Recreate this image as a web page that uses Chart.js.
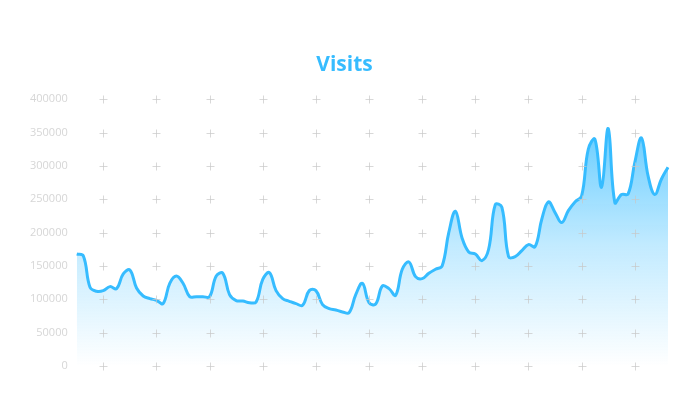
<!DOCTYPE html>
<html>
<head>
<meta charset="utf-8">
<script src="https://cdn.jsdelivr.net/npm/chart.js@4.4.1/dist/chart.umd.min.js"></script>
<style>
    html, body { margin: 0; padding: 0; background: #fff; }
    #wrap { width: 700px; height: 420px; }
</style>
</head>
<body>
<div id="wrap"><canvas id="visitsChart"></canvas></div>
<script>
// daily visits, 90 days
const days = Array.from({ length: 90 }, (_, i) => `Day ${i + 1}`);
const visits = [
    168000, 165000, 118000, 112000, 113000, 119000, 116000, 138000, 144000, 117000,
    105000, 101000, 98500, 93500, 124000, 135000, 124000, 104000, 104000, 104000,
    104000, 135000, 139000, 107000, 98000, 97500, 95000, 96000, 130000, 140000,
    113000, 101000, 97000, 93500, 91000, 113000, 113000, 92000, 86000, 84000,
    81000, 80000, 107000, 124000, 95000, 93000, 120000, 116000, 106000, 145000,
    156000, 134000, 131000, 139000, 145000, 150000, 200000, 232000, 192000, 171000,
    168000, 158000, 175000, 242000, 238000, 164000, 164000, 173000, 182000, 179000,
    220000, 246000, 230000, 215000, 233000, 246000, 255000, 325000, 340000, 268000,
    356000, 245000, 257000, 258000, 305000, 342000, 285000, 257000, 280000, 298000
];
const yTicks = [0, 50000, 100000, 150000, 200000, 250000, 300000, 350000, 400000];

const lineBlue = "#36bcff";

// little "+" marks where the y ticks meet every 8th day
const plusGrid = {
    id: "plusGrid",
    afterDatasetsDraw(chart) {
        const { ctx, scales } = chart;
        ctx.save();
        ctx.strokeStyle = "rgba(200,200,200,0.7)";
        ctx.lineWidth = 1;
        yTicks.forEach(t => {
            const y = Math.round(scales.y.getPixelForValue(t)) + 0.5;
            days.forEach((_, i) => {
                if (i % 8 !== 4) return;
                const x = Math.round(scales.x.getPixelForValue(i)) + 0.5;
                ctx.beginPath();
                ctx.moveTo(x - 4, y);
                ctx.lineTo(x + 4, y);
                ctx.moveTo(x, y - 4);
                ctx.lineTo(x, y + 4);
                ctx.stroke();
            });
        });
        ctx.restore();
    }
};

new Chart(document.getElementById("visitsChart"), {
    type: "line",
    data: {
        labels: days,
        datasets: [{
            label: "Visits",
            data: visits,
            borderColor: lineBlue,
            borderWidth: 3,
            pointRadius: 0,
            tension: 0.4,
            fill: "origin",
            backgroundColor: context => {
                const area = context.chart.chartArea;
                if (!area) return "rgba(54,188,255,0.3)";
                const g = context.chart.ctx.createLinearGradient(0, area.top, 0, area.bottom);
                g.addColorStop(0, "rgba(54,188,255,0.85)");
                g.addColorStop(0.55, "rgba(54,188,255,0.3)");
                g.addColorStop(1, "rgba(54,188,255,0)");
                return g;
            }
        }]
    },
    options: {
        responsive: true,
        maintainAspectRatio: false,
        animation: false,
        layout: { padding: { left: 21, right: 32, top: 52, bottom: 54 } },
        plugins: {
            legend: { display: false },
            tooltip: { enabled: false },
            title: {
                display: true,
                text: "Visits",
                color: lineBlue,
                font: { family: "Open Sans", size: 21, weight: "bold" },
                padding: { top: 0, bottom: 22 }
            }
        },
        scales: {
            x: {
                display: false
            },
            y: {
                min: 0,
                max: 400000,
                afterBuildTicks: axis => { axis.ticks = yTicks.map(v => ({ value: v })); },
                grid: { display: false, drawTicks: false },
                border: { display: false },
                ticks: {
                    color: "#d6d6d6",
                    padding: 9,
                    font: { family: "Open Sans", size: 11 },
                    callback: value => String(value)
                }
            }
        }
    },
    plugins: [plusGrid]
});
</script>
</body>
</html>
